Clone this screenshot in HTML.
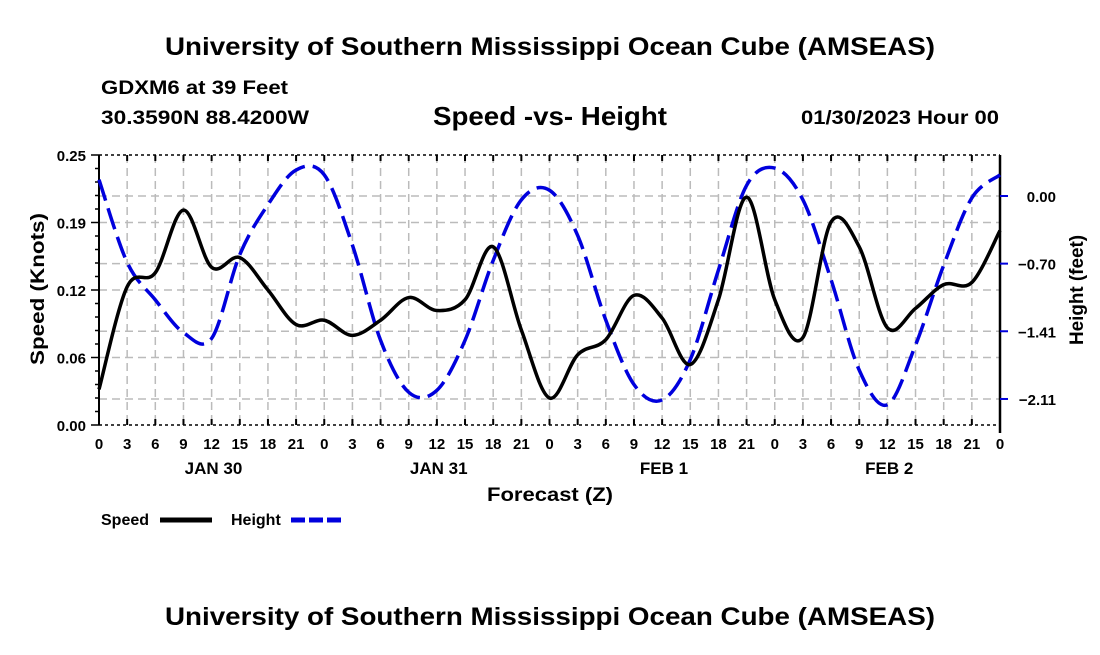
<!DOCTYPE html>
<html><head><meta charset="utf-8"><style>
body{margin:0;background:#fff;width:1100px;height:650px;overflow:hidden;font-family:"Liberation Sans",sans-serif}
svg text{font-family:"Liberation Sans",sans-serif;font-weight:bold;fill:#000}
</style></head><body>
<svg id="chart" width="1100" height="650" xmlns="http://www.w3.org/2000/svg">
<text x="165" y="55" font-size="25" textLength="770" lengthAdjust="spacingAndGlyphs">University of Southern Mississippi Ocean Cube (AMSEAS)</text>
<text x="101" y="94" font-size="19" textLength="187" lengthAdjust="spacingAndGlyphs">GDXM6 at 39 Feet</text>
<text x="101" y="124" font-size="19" textLength="208" lengthAdjust="spacingAndGlyphs">30.3590N  88.4200W</text>
<text x="433" y="125" font-size="26" textLength="234" lengthAdjust="spacingAndGlyphs">Speed -vs- Height</text>
<text x="801" y="124" font-size="19" textLength="198" lengthAdjust="spacingAndGlyphs">01/30/2023 Hour 00</text>
<text x="165" y="625" font-size="25" textLength="770" lengthAdjust="spacingAndGlyphs">University of Southern Mississippi Ocean Cube (AMSEAS)</text>
<g id="grid"></g>
<g id="axes"></g>
<g id="series"></g>
<text transform="translate(44,289) rotate(-90)" font-size="19" text-anchor="middle" textLength="152" lengthAdjust="spacingAndGlyphs">Speed (Knots)</text>
<text transform="translate(1083,290) rotate(-90)" font-size="19" text-anchor="middle" textLength="110" lengthAdjust="spacingAndGlyphs">Height (feet)</text>
<text x="487" y="501" font-size="19" textLength="126" lengthAdjust="spacingAndGlyphs">Forecast (Z)</text>
<g>
<text x="101" y="525" font-size="16">Speed</text>
<line x1="160" y1="520" x2="212" y2="520" stroke="#000" stroke-width="5"/>
<text x="231" y="525" font-size="16">Height</text>
<line x1="291" y1="520" x2="343" y2="520" stroke="#0000dd" stroke-width="5" stroke-dasharray="14,4"/>
</g>
</svg>
<script>
const hours=[0,3,6,9,12,15,18,21,24,27,30,33,36,39,42,45,48,51,54,57,60,63,66,69,72,75,78,81,84,87,90,93,96];
const speed=[0.033,0.128,0.141,0.199,0.146,0.155,0.125,0.093,0.097,0.083,0.097,0.118,0.106,0.116,0.165,0.088,0.025,0.065,0.079,0.120,0.099,0.056,0.116,0.211,0.116,0.081,0.188,0.165,0.090,0.108,0.130,0.132,0.180];
const height=[0.17,-0.69,-1.08,-1.42,-1.48,-0.61,-0.09,0.27,0.22,-0.51,-1.50,-2.04,-2.02,-1.50,-0.67,-0.04,0.06,-0.41,-1.29,-1.96,-2.12,-1.70,-0.77,0.11,0.29,-0.04,-0.87,-1.81,-2.17,-1.55,-0.72,-0.02,0.22];
const speedTicks=[0,0.0625,0.125,0.1875,0.25];
const speedTickLabels=["0.00","0.06","0.12","0.19","0.25"];
const heightTicks=[0,-0.703,-1.406,-2.11];
const heightTickLabels=["0.00","\u22120.70","\u22121.41","\u22122.11"];
const hourLabels=["0","3","6","9","12","15","18","21"];
const dayLabels=["JAN 30","JAN 31","FEB 1","FEB 2"];
const X0=99,X1=1000,Y0=155,Y1=425;
const xs=h=>X0+(X1-X0)*h/96;
const ys=v=>Y1-(Y1-Y0)*v/0.25;
const yh=v=>196-96.2*v;
const NS="http://www.w3.org/2000/svg";
function mk(tag,attrs,parent,txt){const e=document.createElementNS(NS,tag);for(const k in attrs)e.setAttribute(k,attrs[k]);if(txt!==undefined)e.textContent=txt;parent.appendChild(e);return e;}
const grid=document.getElementById('grid'),axes=document.getElementById('axes'),series=document.getElementById('series');
for(let h=3;h<96;h+=3){const l=mk('line',{x1:xs(h),x2:xs(h),y1:Y0,y2:Y1,stroke:'#bbb','stroke-width':1.5,'stroke-dasharray':'8,5'},grid);

}
speedTicks.slice(1,4).forEach(v=>{const l=mk('line',{x1:X0,x2:X1,y1:ys(v),y2:ys(v),stroke:'#bbb','stroke-width':1.5,'stroke-dasharray':'8,5'},grid);

});
heightTicks.forEach(v=>{const l=mk('line',{x1:X0,x2:X1,y1:yh(v),y2:yh(v),stroke:'#bbb','stroke-width':1.5,'stroke-dasharray':'8,5'},grid);

});
mk('line',{x1:X0,x2:X0,y1:Y0,y2:Y1,stroke:'#000','stroke-width':2},axes);
mk('line',{x1:X1,x2:X1,y1:Y0,y2:Y1+8,stroke:'#000','stroke-width':2.5},axes);
mk('line',{x1:X0,x2:X1,y1:Y0,y2:Y0,stroke:'#000','stroke-width':1.5,'stroke-dasharray':'3,3'},axes);
mk('line',{x1:X0,x2:X1,y1:Y1,y2:Y1,stroke:'#000','stroke-width':1.5,'stroke-dasharray':'3,3'},axes);
for(let h=0;h<=96;h+=3){const x=xs(h);
mk('line',{x1:x,x2:x,y1:Y1,y2:Y1-6,stroke:'#000','stroke-width':2},axes);
mk('line',{x1:x,x2:x,y1:Y0,y2:Y0+6,stroke:'#000','stroke-width':2},axes);
const t=mk('text',{x:x,y:Y1+24,'font-size':15,'text-anchor':'middle'},axes,hourLabels[(h/3)%8]);

}
dayLabels.forEach((d,i)=>{const t=mk('text',{x:xs(9+24*i)+30,y:Y1+49,'font-size':17,'text-anchor':'middle'},axes,d);

});
for(let v=0;v<=0.25001;v+=0.0125){mk('line',{x1:X0,x2:X0-(Math.round(v/0.0125)%5===0?8:4),y1:ys(v),y2:ys(v),stroke:'#000','stroke-width':1.5},axes);}
speedTicks.forEach((v,i)=>{const t=mk('text',{x:X0-13,y:ys(v)+6,'font-size':15,'text-anchor':'end'},axes,speedTickLabels[i]);

});
heightTicks.forEach((v,i)=>{mk('line',{x1:X1,x2:X1+8,y1:yh(v),y2:yh(v),stroke:'#0000dd','stroke-width':2},axes);
const t=mk('text',{x:X1+56,y:yh(v)+6,'font-size':15,'text-anchor':'end'},axes,heightTickLabels[i]);

});
function smooth(pts){let d=`M${pts[0][0]},${pts[0][1]}`;for(let i=0;i<pts.length-1;i++){const p0=pts[Math.max(0,i-1)],p1=pts[i],p2=pts[i+1],p3=pts[Math.min(pts.length-1,i+2)];
d+=` C${p1[0]+(p2[0]-p0[0])/6},${p1[1]+(p2[1]-p0[1])/6} ${p2[0]-(p3[0]-p1[0])/6},${p2[1]-(p3[1]-p1[1])/6} ${p2[0]},${p2[1]}`;}return d;}
const hp=mk('path',{d:smooth(hours.map((h,i)=>[xs(h),yh(height[i])])),fill:'none',stroke:'#0000dd','stroke-width':3.5,'stroke-dasharray':'22,8'},series);


const sp=mk('path',{d:smooth(hours.map((h,i)=>[xs(h),ys(speed[i])])),fill:'none',stroke:'#000','stroke-width':3.5},series);


</script>
</body></html>
